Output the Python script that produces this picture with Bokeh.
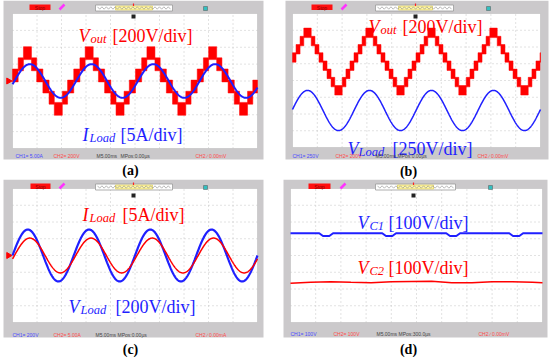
import numpy as np
from bokeh.plotting import figure
from bokeh.layouts import gridplot
from bokeh.models import Range1d
from bokeh.core.properties import value
from bokeh.embed import file_html
from bokeh.resources import INLINE

# ---------------- data (oscilloscope divisions: 10 x 8, y = 0 at centre) -------------
# (a) Vout staircase + ILoad
a_period = 2.52
a_vout_center = 0.0
a_vout_step = 0.66
a_seg_edges = [0.0, 0.2, 0.37, 0.63, 0.8, 1.0]      # fraction of half period
a_seg_bands = [(0, 1), (1, 2), (2, 3), (1, 2), (0, 1)]
a_vout_phase = -0.02
a_iload_amp = 1.0
a_iload_phase = 0.08

# (b) Vout staircase + VLoad
b_period = 2.5
b_vout_center = 1.13
b_vout_step = 0.49
b_seg_edges = [0.0, 0.13, 0.26, 0.38, 0.62, 0.74, 0.87, 1.0]
b_seg_bands = [(0, 1), (1, 2), (2, 3), (3, 4), (2, 3), (1, 2), (0, 1)]
b_vout_phase = -0.02
b_vload_center = -1.79
b_vload_amp = 1.2
b_vload_phase = -0.02

# (c) ILoad + VLoad
c_period = 2.5
c_vload_amp = 1.55
c_vload_phase = 0.0
c_iload_amp = 1.04
c_iload_phase = 0.08

# (d) capacitor voltages
d_vc1_level = 1.33
d_vc1_dips = [1.39, 3.89, 6.43, 8.93]
d_vc1_dip_depth = 0.17
d_vc2_x = [0.0, 0.8, 1.6, 2.4, 3.2, 4.0, 4.8, 5.6, 6.4, 7.2, 8.0, 8.8, 9.6, 10.0]
d_vc2_y = [-1.66, -1.6, -1.56, -1.6, -1.62, -1.57, -1.55, -1.54, -1.62, -1.63, -1.57, -1.56, -1.6, -1.62]

# ---------------- layout geometry (reference pixels) ---------------------------------
RED = "#ff0000"
BLUE = "#1f1fff"
GRAY = "#cbc9cb"
SERIF = value("Liberation Serif")
SANS = value("Liberation Sans")

panels = {
    "a": dict(quad=(0, 0, 275, 179), scope=(12, 13, 257, 148), frame=(3, 0, 263, 159)),
    "b": dict(quad=(275, 0, 550, 179), scope=(292, 13, 540, 147), frame=(285, 0, 548, 159)),
    "c": dict(quad=(0, 179, 275, 359), scope=(12, 188, 257, 322), frame=(3, 179, 263, 337)),
    "d": dict(quad=(275, 179, 550, 359), scope=(290, 188, 542, 322), frame=(283, 179, 547, 337)),
}


def make_panel(key):
    g = panels[key]
    qx0, qy0, qx1, qy1 = g["quad"]
    sx0, sy0, sx1, sy1 = g["scope"]

    def X(px):
        return (px - sx0) / (sx1 - sx0) * 10.0

    def Y(py):
        return 4.0 - (py - sy0) / (sy1 - sy0) * 8.0

    p = figure(width=qx1 - qx0, height=qy1 - qy0, output_backend="svg", toolbar_location=None,
               x_range=Range1d(X(qx0), X(qx1)), y_range=Range1d(Y(qy1), Y(qy0)),
               x_axis_type=None, y_axis_type=None, min_border=0,
               outline_line_color=None, background_fill_color="white",
               border_fill_color="white")
    p.grid.visible = False
    fx0, fy0, fx1, fy1 = g["frame"]
    p.quad(left=[X(fx0)], right=[X(fx1)], bottom=[Y(fy1)], top=[Y(fy0)],
           fill_color=GRAY, line_color=None)
    p.quad(left=[0], right=[10], bottom=[-4], top=[4], fill_color="white",
           line_color="#bdbdbd", line_width=0.6)
    # dotted graticule
    for gx in range(1, 10):
        p.segment(x0=[gx], y0=[-4], x1=[gx], y1=[4], line_color="#c4c4c4",
                  line_dash="1 3", line_width=1)
    for gy in range(-3, 4):
        p.segment(x0=[0], y0=[gy], x1=[10], y1=[gy], line_color="#c4c4c4",
                  line_dash="1 3", line_width=1)
    return p, X, Y


def top_bar(p, X, Y, stop, pen, box, yellow, teal, trig, ytop):
    p.quad(left=[X(stop[0])], right=[X(stop[1])], top=[Y(ytop + 4)], bottom=[Y(ytop + 9.5)],
           fill_color="#ff1010", line_color=None)
    p.text(x=[X((stop[0] + stop[1]) / 2)], y=[Y(ytop + 7)], text=["Stop"], text_font=SANS,
           text_font_size="5px", text_color="#8b0000", text_align="center", text_baseline="middle")
    p.segment(x0=[X(pen - 2)], y0=[Y(ytop + 9)], x1=[X(pen + 3)], y1=[Y(ytop + 4)],
              line_color="#ff33ff", line_width=2.5)
    p.quad(left=[X(box[0])], right=[X(box[1])], top=[Y(ytop + 4.5)], bottom=[Y(ytop + 10.5)],
           fill_color="white", line_color="#9a9a9a", line_width=0.8)
    p.quad(left=[X(yellow[0])], right=[X(yellow[1])], top=[Y(ytop + 5.5)], bottom=[Y(ytop + 9.5)],
           fill_color="#fff7a8", line_color="#d8c84a", line_width=0.6)
    zx = np.linspace(box[0] + 2, box[1] - 2, 34)
    zy = np.where(np.arange(34) % 2 == 0, ytop + 6.3, ytop + 8.7)
    p.line(x=[X(v) for v in zx], y=[Y(v) for v in zy], line_color="#8a8a8a", line_width=0.6)
    p.segment(x0=[X(trig)], y0=[Y(ytop + 3)], x1=[X(trig)], y1=[Y(ytop + 5.5)], line_color="#ff2020",
              line_width=1.2)
    p.scatter(x=[X(trig)], y=[Y(ytop + 16)], marker="square", size=4, fill_color="#222",
              line_color=None)
    p.scatter(x=[X(teal)], y=[Y(ytop + 8)], marker="square", size=4, fill_color="#33c0c0",
              line_color="#555", line_width=0.5)


def status(p, X, Y, ybase, items):
    for txt, px, col in items:
        p.text(x=[X(px)], y=[Y(ybase)], text=[txt], text_font=SANS, text_font_size="5px",
               text_color=col, text_baseline="middle", text_align="left")


def label(p, X, Y, pieces, color):
    # pieces: (text, px, baseline_py, size, italic)
    for txt, px, py, size, it in pieces:
        p.text(x=[X(px)], y=[Y(py)], text=[txt], text_font=SERIF, text_font_size=size,
               text_font_style="italic" if it else "normal", text_color=color,
               text_baseline="alphabetic", text_align="left")


def caption(p, X, Y, txt, px, py):
    p.text(x=[X(px)], y=[Y(py)], text=[txt], text_font=SERIF, text_font_size="14px",
           text_font_style="bold", text_color="black", text_align="center",
           text_baseline="middle")


def staircase(p, period, phase, center, step, edges, bands, color):
    half = period / 2.0
    pad = 0.08 * step
    lefts, rights, bots, tops = [], [], [], []
    k = -1
    while phase + k * period < 10:
        for h, sign in ((0, 1), (1, -1)):
            t0 = phase + k * period + h * half
            for (e0, e1), (lo, hi) in zip(zip(edges[:-1], edges[1:]), bands):
                l = max(0.0, t0 + e0 * half)
                r = min(10.0, t0 + e1 * half)
                if r <= l:
                    continue
                lv, hv = sign * lo * step + center, sign * hi * step + center
                lefts.append(l); rights.append(r)
                bots.append(min(lv, hv) - pad); tops.append(max(lv, hv) + pad)
        k += 1
    p.quad(left=lefts, right=rights, bottom=bots, top=tops, fill_color=color, line_color=color,
           line_width=0.5)


def sine(p, period, phase, center, amp, color, width):
    t = np.linspace(0, 10, 600)
    p.line(x=t, y=center + amp * np.sin(2 * np.pi * (t - phase) / period), line_color=color,
           line_width=width)


def marker(p, X, Y, yv, color):
    p.scatter(x=[X(8)], y=[yv], marker="triangle", angle=-np.pi / 2, size=6, fill_color=color,
              line_color=color)


# ---------------- (a) -----------------
pa, Xa, Ya = make_panel("a")
top_bar(pa, Xa, Ya, (29, 50), 61, (95, 172), (115, 152), 205, 133, 0)
staircase(pa, a_period, a_vout_phase, a_vout_center, a_vout_step, a_seg_edges, a_seg_bands, RED)
sine(pa, a_period, a_iload_phase, 0.0, a_iload_amp, BLUE, 2)
marker(pa, Xa, Ya, 0.0, RED)
label(pa, Xa, Ya, [("V", 78, 35, "18px", True), ("out", 90, 38, "12.5px", True),
                   ("[200V/div]", 112, 35, "18px", False)], RED)
label(pa, Xa, Ya, [("I", 82, 134, "18px", True), ("Load", 89, 137, "12.5px", True),
                   ("[5A/div]", 120, 134, "18px", False)], BLUE)
status(pa, Xa, Ya, 155, [("CH1= 5.00A", 15, "#4a4aff"), ("CH2= 200V", 53, "#ff4a4a"),
                          ("M5.00ms", 96, "#444"), ("MPos:0.00\u00b5s", 120, "#444"),
                          ("CH2 \u2215 0.00mV", 195, "#ff4a4a")])
caption(pa, Xa, Ya, "(a)", 130, 170)

# ---------------- (b) -----------------
pb, Xb, Yb = make_panel("b")
top_bar(pb, Xb, Yb, (311, 332), 343, (375, 453), (398, 432), 488, 415, 0)
staircase(pb, b_period, b_vout_phase, b_vout_center, b_vout_step, b_seg_edges, b_seg_bands, RED)
sine(pb, b_period, b_vload_phase, b_vload_center, b_vload_amp, BLUE, 1.5)
marker(pb, Xb, Yb, b_vout_center, RED)
marker(pb, Xb, Yb, b_vload_center, BLUE)
label(pb, Xb, Yb, [("V", 368, 26, "18px", True), ("out", 380, 29, "12.5px", True),
                   ("[200V/div]", 402, 26, "18px", False)], RED)
label(pb, Xb, Yb, [("V", 347, 148, "18px", True), ("Load", 358, 151, "12.5px", True),
                   ("[250V/div]", 392, 148, "18px", False)], BLUE)
status(pb, Xb, Yb, 155, [("CH1= 250V", 292, "#4a4aff"), ("CH2= 200V", 335, "#ff4a4a"),
                          ("M5.00ms", 375, "#444"), ("MPos:0.00\u00b5s", 397, "#444"),
                          ("CH2 \u2215 0.00mV", 477, "#ff4a4a")])
caption(pb, Xb, Yb, "(b)", 408, 171)

# ---------------- (c) -----------------
pc, Xc, Yc = make_panel("c")
top_bar(pc, Xc, Yc, (30, 50), 61, (95, 172), (115, 152), 205, 133, 179)
sine(pc, c_period, c_vload_phase, 0.0, c_vload_amp, BLUE, 2.2)
sine(pc, c_period, c_iload_phase, 0.0, c_iload_amp, RED, 1.5)
marker(pc, Xc, Yc, 0.0, RED)
label(pc, Xc, Yc, [("I", 82, 214, "18px", True), ("Load", 89, 217, "12.5px", True),
                   ("[5A/div]", 122, 214, "18px", False)], RED)
label(pc, Xc, Yc, [("V", 68, 306, "18px", True), ("Load", 80, 309, "12.5px", True),
                   ("[200V/div]", 115, 306, "18px", False)], BLUE)
status(pc, Xc, Yc, 334, [("CH1= 200V", 12, "#4a4aff"), ("CH2= 5.00A", 53, "#ff4a4a"),
                          ("M5.00ms", 95, "#444"), ("MPos:0.00\u00b5s", 117, "#444"),
                          ("CH2 \u2215 0.00mA", 195, "#ff4a4a")])
caption(pc, Xc, Yc, "(c)", 130, 349)

# ---------------- (d) -----------------
pd_, Xd, Yd = make_panel("d")
top_bar(pd_, Xd, Yd, (308, 330), 342, (375, 455), (397, 433), 490, 413, 179)
vx, vy = [0.0], [d_vc1_level]
for c in d_vc1_dips:
    vx += [c - 0.25, c - 0.1, c + 0.15, c + 0.3]
    vy += [d_vc1_level, d_vc1_level - d_vc1_dip_depth, d_vc1_level - d_vc1_dip_depth, d_vc1_level]
vx.append(10.0); vy.append(d_vc1_level)
pd_.line(x=vx, y=vy, line_color=BLUE, line_width=2)
pd_.line(x=d_vc2_x, y=d_vc2_y, line_color=RED, line_width=1.5)
marker(pd_, Xd, Yd, 0.0, BLUE)
marker(pd_, Xd, Yd, -3.0, RED)
label(pd_, Xd, Yd, [("V", 357, 222, "18px", True), ("C1", 369, 225, "12.5px", True),
                    ("[100V/div]", 388, 222, "18px", False)], BLUE)
label(pd_, Xd, Yd, [("V", 357, 267, "18px", True), ("C2", 369, 270, "12.5px", True),
                    ("[100V/div]", 388, 267, "18px", False)], RED)
status(pd_, Xd, Yd, 333, [("CH1= 100V", 290, "#4a4aff"), ("CH2= 100V", 333, "#ff4a4a"),
                           ("M5.00ms", 376, "#444"), ("MPos:300.0\u00b5s", 398, "#444"),
                           ("CH2 \u2215 0.00mV", 478, "#ff4a4a")])
caption(pd_, Xd, Yd, "(d)", 408, 349)

grid = gridplot([[pa, pb], [pc, pd_]], toolbar_location=None)
open("out.html", "w").write(file_html(grid, INLINE))
